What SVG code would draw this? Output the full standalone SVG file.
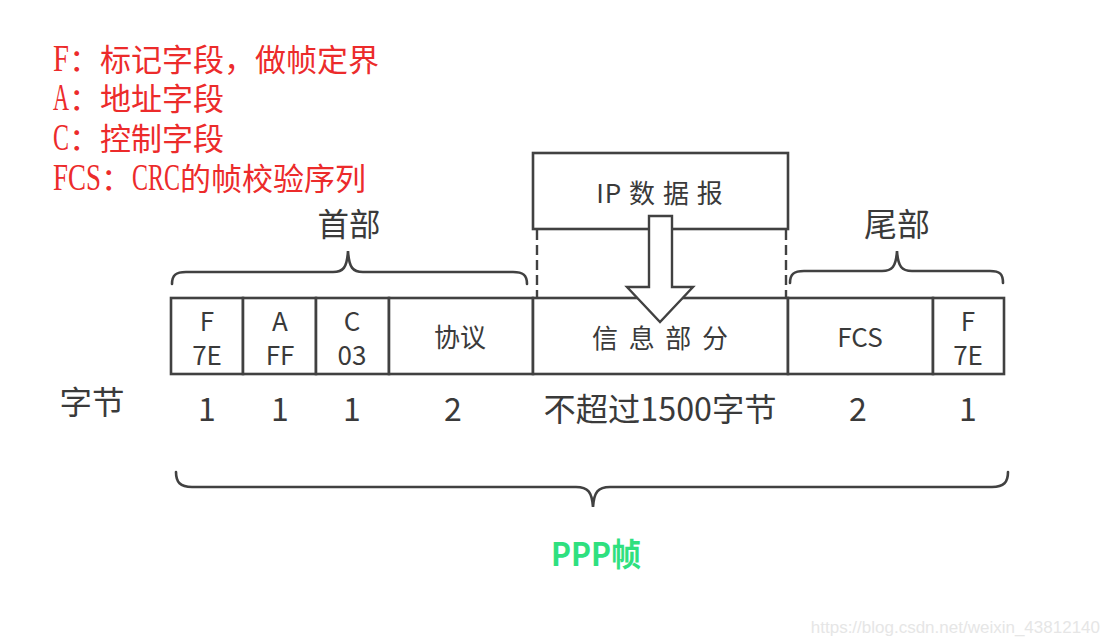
<svg xmlns="http://www.w3.org/2000/svg" width="1111" height="644" viewBox="0 0 1111 644">
<style>
.red{fill:#ec2b2b;font-family:"Noto Sans CJK SC",sans-serif;font-size:31px}
.m{font-family:"Liberation Serif",serif;font-size:37px}
.box{fill:#fff;stroke:#414141;stroke-width:2.6}
.t{fill:#3a3a3a;font-family:"Noto Sans CJK SC","Noto Sans",sans-serif;font-size:26px;text-anchor:middle}
.n{fill:#3a3a3a;font-family:"Noto Sans CJK SC","Noto Sans",sans-serif;font-size:32px;text-anchor:middle}
.br{fill:none;stroke:#414141;stroke-width:2.6;stroke-linecap:round}
</style>
<rect width="1111" height="644" fill="#fff"/>
<g id="legend">
<text class="red" x="53" y="71"><tspan class="m" textLength="16" lengthAdjust="spacingAndGlyphs">F</tspan>：标记字段，做帧定界</text>
<text class="red" x="53" y="110"><tspan class="m" textLength="16" lengthAdjust="spacingAndGlyphs">A</tspan>：地址字段</text>
<text class="red" x="53" y="150"><tspan class="m" textLength="16" lengthAdjust="spacingAndGlyphs">C</tspan>：控制字段</text>
<text class="red" x="53" y="190"><tspan class="m" textLength="48" lengthAdjust="spacingAndGlyphs">FCS</tspan>：<tspan class="m" textLength="48" lengthAdjust="spacingAndGlyphs">CRC</tspan>的帧校验序列</text>
</g>
<g id="ip">
<rect class="box" x="533" y="153" width="255" height="76"/>
<text class="t" x="660" y="203" style="letter-spacing:1px">IP 数 据 报</text>
</g>
<g id="f1"><rect class="box" x="171" y="298" width="72" height="76"/><text class="t" x="207" y="331">F</text><text class="t" x="207" y="365">7E</text></g>
<g id="a"><rect class="box" x="243" y="298" width="73" height="76"/><text class="t" x="280" y="331">A</text><text class="t" x="280" y="365">FF</text></g>
<g id="c"><rect class="box" x="316" y="298" width="73" height="76"/><text class="t" x="352" y="331">C</text><text class="t" x="352" y="365">03</text></g>
<g id="proto"><rect class="box" x="389" y="298" width="144" height="76"/><text class="t" x="460" y="347">协议</text></g>
<g id="info"><rect class="box" x="533" y="298" width="255" height="76"/><text class="t" x="660" y="348" textLength="136" lengthAdjust="spacing">信息部分</text></g>
<g id="fcs"><rect class="box" x="788" y="298" width="145" height="76"/><text class="t" x="860" y="347">FCS</text></g>
<g id="f2"><rect class="box" x="933" y="298" width="71" height="76"/><text class="t" x="968" y="331">F</text><text class="t" x="968" y="365">7E</text></g>
<g id="labels">
<text class="n" x="92" y="414" textLength="65" lengthAdjust="spacingAndGlyphs">字节</text>
<text class="n" x="207" y="421">1</text>
<text class="n" x="280" y="421">1</text>
<text class="n" x="352" y="421">1</text>
<text class="n" x="453" y="421">2</text>
<text class="n" x="660" y="421" textLength="233" lengthAdjust="spacingAndGlyphs">不超过1500字节</text>
<text class="n" x="858" y="421">2</text>
<text class="n" x="968" y="421">1</text>
<text class="n" x="349" y="236" textLength="63" lengthAdjust="spacingAndGlyphs">首部</text>
<text class="n" x="897" y="236" textLength="66" lengthAdjust="spacingAndGlyphs">尾部</text>
<text class="n" x="596" y="566" textLength="90" lengthAdjust="spacingAndGlyphs" style="fill:#2fe07f;font-weight:bold">PPP帧</text>
</g>
<g id="connectors">
<line x1="537" y1="230" x2="537" y2="298" stroke="#414141" stroke-width="2.4" stroke-dasharray="10,5"/>
<line x1="786" y1="230" x2="786" y2="298" stroke="#414141" stroke-width="2.4" stroke-dasharray="10,5"/>
<path class="br" d="M172,284 C172,275 176,272 186,272 L333,272 C343,272 347,268 348,251 C349,268 353,272 363,272 L513,272 C523,272 527,275 527,284"/>
<path class="br" d="M790,283 C790,274 794,271 804,271 L882,271 C892,271 896,267 897,251 C898,267 902,271 912,271 L990,271 C1000,271 1003,274 1003,283"/>
<path class="br" d="M176,472 C176,482 180,487 192,487 L576,487 C588,487 592,492 593,507 C594,492 598,487 610,487 L992,487 C1004,487 1008,482 1008,472"/>
<polygon points="649,216 672,216 672,287 693,287 660,322 627,287 649,287" fill="#fff" stroke="#414141" stroke-width="2.4" stroke-linejoin="miter"/>
</g>
<text x="1100" y="633" text-anchor="end" style="fill:#e6e6e6;font-family:'Liberation Sans',sans-serif;font-size:17px">https://blog.csdn.net/weixin_43812140</text>
</svg>
